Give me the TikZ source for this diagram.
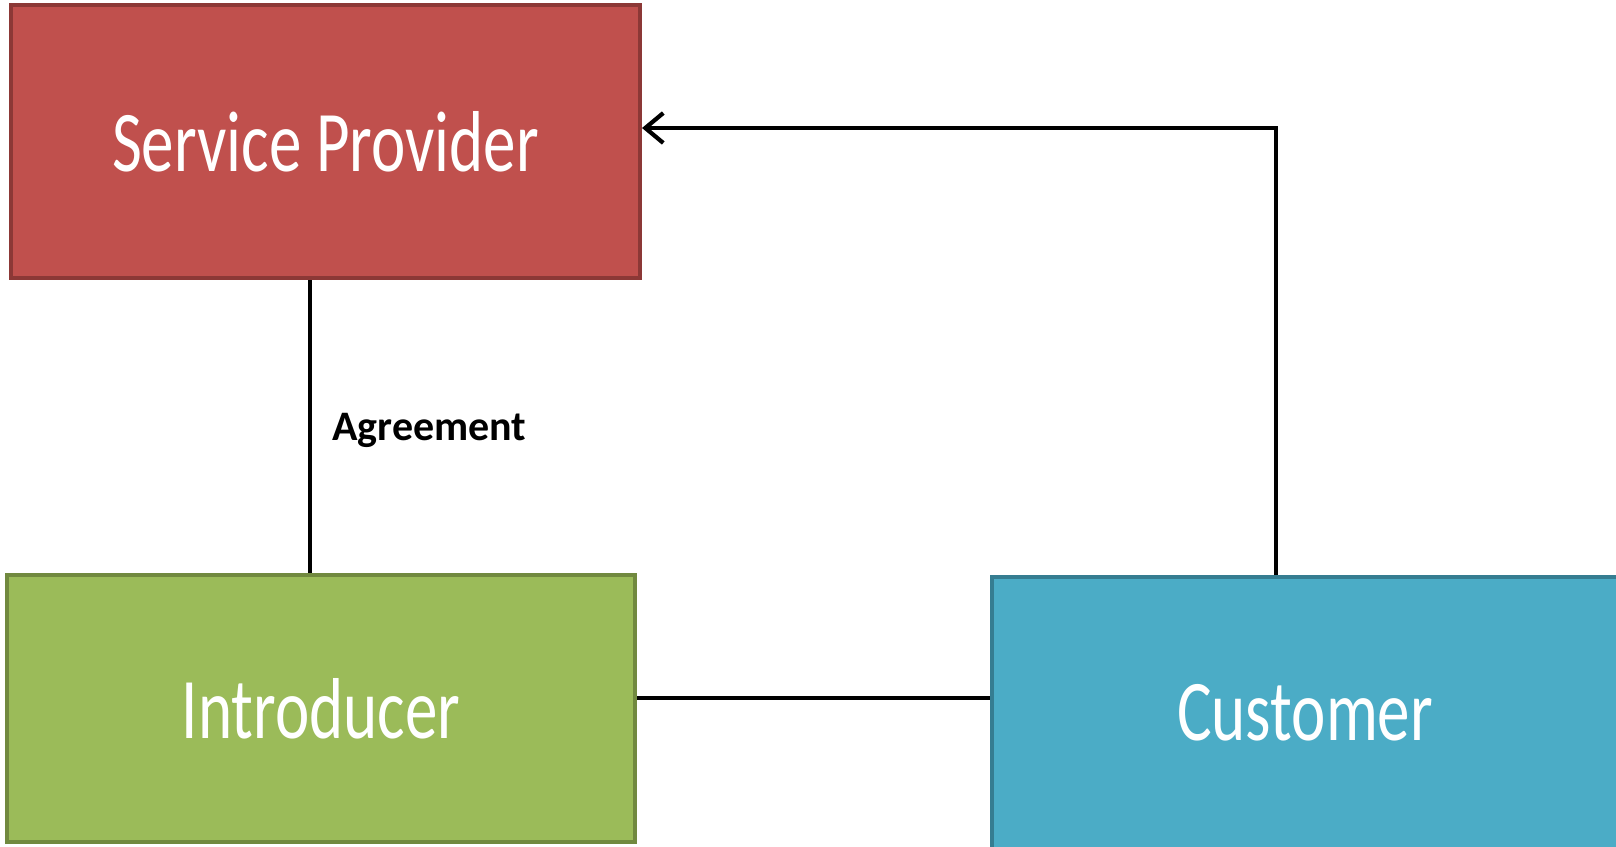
\documentclass[tikz,border=0pt]{standalone}
\usepackage{fontspec}
\setmainfont{Carlito}
\usetikzlibrary{arrows.meta}
\definecolor{spfill}{HTML}{C0504D}
\definecolor{spdraw}{HTML}{8C3836}
\definecolor{infill}{HTML}{9BBB59}
\definecolor{indraw}{HTML}{71893F}
\definecolor{cufill}{HTML}{4BACC6}
\definecolor{cudraw}{HTML}{357D91}
\tikzset{
  boxnode/.style={rectangle, inner sep=0pt, line width=2pt, text=white,
    font=\fontsize{32.5pt}{39pt}\selectfont},
  conn/.style={line width=2.1pt, black},
  lbl/.style={font=\bfseries\fontsize{21pt}{25pt}\selectfont, inner sep=0pt}
}
\newcommand{\tall}[1]{\scalebox{1}[1.33]{#1}}
\begin{document}
\begin{tikzpicture}[x=0.5pt,y=-0.5pt]
\useasboundingbox (0,0) rectangle (1616,846);
\node[boxnode, fill=spfill, draw=spdraw, minimum width=314.5pt, minimum height=136.5pt]
  (sp) at (325.5,141.5) {\tall{Service Provider}};
\node[boxnode, fill=infill, draw=indraw, minimum width=314pt, minimum height=133.5pt]
  (in) at (321,708.5) {\tall{Introducer}};
\node[boxnode, fill=cufill, draw=cudraw, minimum width=313pt, minimum height=136pt]
  (cu) at (1305,713) {\tall{Customer}};
\coordinate (turn) at (1276,128);
\coordinate (ax) at (310,420);
\coordinate (hy) at (800,698);
\draw[conn, -{Straight Barb[length=9pt,width=15pt,line width=2.1pt]}]
  (cu.north -| turn) -- (turn) -- (sp.east |- turn);
\draw[conn] (sp.south -| ax) -- (in.north -| ax);
\draw[conn] (in.east |- hy) -- (cu.west |- hy);
\node[lbl, anchor=base west] (agr) at (332,440) {Agreement};
\end{tikzpicture}
\end{document}
